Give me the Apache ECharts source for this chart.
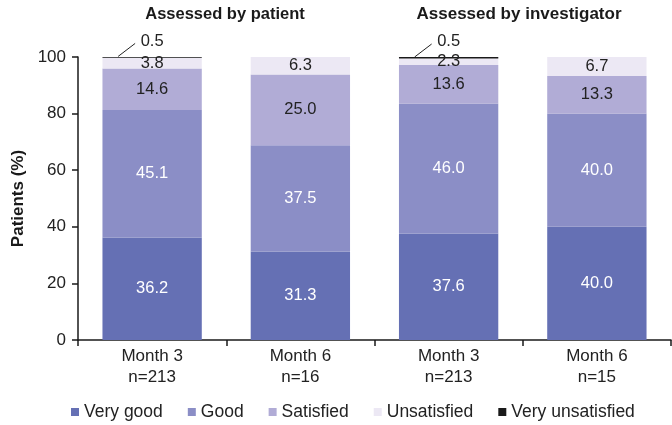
<!DOCTYPE html>
<html>
<head>
<meta charset="utf-8">
<script src="https://cdn.jsdelivr.net/npm/echarts@6/dist/echarts.min.js"></script>
<style>
  html, body { margin: 0; padding: 0; background: #fff; }
  #chart { width: 672px; height: 425px; }
</style>
</head>
<body>
<div id="chart"></div>
<script>
const categories = ['Month 3\nn=213', 'Month 6\nn=16', 'Month 3\nn=213', 'Month 6\nn=15']
const groupTitles = ['Assessed by patient', 'Assessed by investigator']
const veryGood = [36.2, 31.3, 37.6, 40.0]
const good = [45.1, 37.5, 46.0, 40.0]
const satisfied = [14.6, 25.0, 13.6, 13.3]
const unsatisfied = [3.8, 6.3, 2.3, 6.7]
const veryUnsatisfied = [0.5, 0, 0.5, 0]
const yTicks = [0, 20, 40, 60, 80, 100]

const font = 'Liberation Sans, Arial, sans-serif'
const chart = echarts.init(document.getElementById('chart'))

// plain stacked bar with the value written inside
function stackSeries(name, data, color, labelColor) {
  return {
    name: name,
    type: 'bar',
    stack: 'all',
    barWidth: '67%',
    data: data,
    itemStyle: { color: color },
    label: {
      show: true,
      position: 'inside',
      color: labelColor,
      fontFamily: font,
      fontSize: 16.5,
      formatter: (p) => p.value.toFixed(1),
    },
  }
}

const series = [
  stackSeries('Very good', veryGood, '#6570b4', '#fff'),
  stackSeries('Good', good, '#8b8ec6', '#fff'),
  stackSeries('Satisfied', satisfied, '#b1acd6', '#222'),
  stackSeries('Unsatisfied', unsatisfied, '#ece8f4', '#222'),
  {
    name: 'Very unsatisfied',
    type: 'bar',
    stack: 'all',
    barWidth: '67%',
    data: veryUnsatisfied.map((v) => (v > 0 ? v : null)),
    itemStyle: { color: '#1a1a1a' },
    label: {
      show: true,
      position: 'top',
      distance: 7,
      color: '#222',
      fontFamily: font,
      fontSize: 16.5,
      formatter: (p) => p.value.toFixed(1),
    },
  },
]

const option = {
  animation: false,
  title: groupTitles.map((t, i) => ({
    text: t,
    left: i === 0 ? 220 : 514,
    top: 1,
    textAlign: 'center',
    textStyle: { fontFamily: font, fontSize: i === 0 ? 16.5 : 17, fontWeight: 'bold', color: '#1a1a1a' },
  })),
  grid: { left: 78, right: 1, top: 57, bottom: 85 },
  legend: {
    top: 398,
    left: 66,
    itemWidth: 8,
    itemHeight: 8,
    itemGap: 25,
    icon: 'rect',
    textStyle: { fontFamily: font, fontSize: 17.5, color: '#222' },
    data: series.map((s) => s.name),
  },
  xAxis: {
    type: 'category',
    data: categories,
    axisLine: { lineStyle: { color: '#1a1a1a', width: 1.5 } },
    axisTick: { show: true, length: 6, lineStyle: { color: '#1a1a1a', width: 1.5 } },
    axisLabel: { fontFamily: font, fontSize: 17, color: '#222', lineHeight: 21, margin: 6 },
  },
  yAxis: {
    type: 'value',
    min: yTicks[0],
    max: yTicks[yTicks.length - 1],
    interval: 20,
    name: 'Patients (%)',
    nameLocation: 'middle',
    nameGap: 51,
    nameTextStyle: { fontFamily: font, fontSize: 17, fontWeight: 'bold', color: '#1a1a1a' },
    axisLine: { show: true, lineStyle: { color: '#1a1a1a', width: 1.5 } },
    axisTick: { show: true, length: 6, lineStyle: { color: '#1a1a1a', width: 1.5 } },
    axisLabel: { fontFamily: font, fontSize: 17, color: '#222', margin: 12 },
    splitLine: { show: false },
  },
  series: series,
}

chart.setOption(option)

// leader lines for the tiny "very unsatisfied" segments, placed from the axis scale
const leaders = []
veryUnsatisfied.forEach((v, i) => {
  if (!v) return
  const total = veryGood[i] + good[i] + satisfied[i] + unsatisfied[i] + v
  const [cx, cy] = chart.convertToPixel({ xAxisIndex: 0, yAxisIndex: 0 }, [i, total])
  leaders.push({
    type: 'line',
    shape: { x1: cx - 34, y1: cy, x2: cx - 17, y2: cy - 13 },
    style: { stroke: '#222', lineWidth: 1 },
  })
})
chart.setOption({ graphic: leaders })
</script>
</body>
</html>
